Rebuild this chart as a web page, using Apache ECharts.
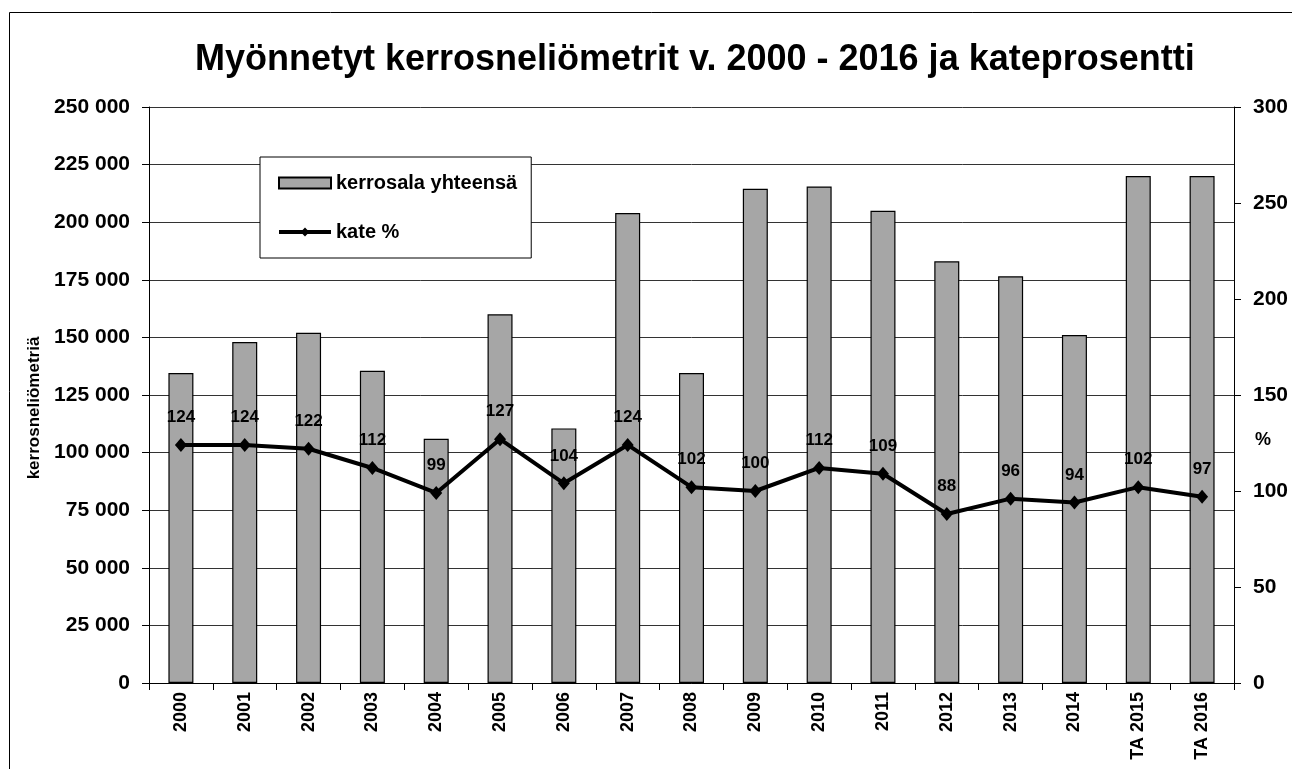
<!DOCTYPE html>
<html><head><meta charset="utf-8">
<script src="https://cdn.jsdelivr.net/npm/echarts@6/dist/echarts.min.js"></script>
<style>html,body{margin:0;padding:0;background:#fff}#c{width:1292px;height:769px}</style>
</head><body><div id="c"></div>
<script>
const categories = ['2000','2001','2002','2003','2004','2005','2006','2007','2008','2009','2010','2011','2012','2013','2014','TA 2015','TA 2016'];
const kerrosala = [134500,148000,152000,135500,106000,160000,110500,204000,134500,214500,215500,205000,183000,176500,151000,220000,220000];
const kate = [124,124,122,112,99,127,104,124,102,100,112,109,88,96,94,102,97];

const F = 'Liberation Sans, Arial, sans-serif';
const chart = echarts.init(document.getElementById('c'));
chart.setOption({
  animation: false,
  backgroundColor: '#fff',
  graphic: [
    {type:'rect', shape:{x:9.5,y:12.5,width:1300,height:800}, style:{fill:'none',stroke:'#000',lineWidth:1}, z:-1},
    {type:'text', left:1255, top:431, style:{text:'%', font:'bold 18px '+F, fill:'#000'}}
  ],
  title: {text:'Myönnetyt kerrosneliömetrit v. 2000 - 2016 ja kateprosentti', left:190, top:37,
    textStyle:{fontFamily:F, fontSize:36, fontWeight:'bold', color:'#000'}},
  legend: {orient:'vertical', left:260, top:157, padding:[16,14,16,17], itemGap:29,
    borderColor:'#000', borderWidth:1, backgroundColor:'#fff', itemWidth:52, itemHeight:11,
    textStyle:{fontFamily:F, fontSize:20, fontWeight:'bold', color:'#000'},
    data:[{name:'kerrosala yhteensä', icon:'rect'},{name:'kate %', lineStyle:{width:4, color:'#000'}}]},
  grid: {left:149, right:58, top:107, bottom:86},
  xAxis: {type:'category', data:categories,
    axisLine:{lineStyle:{color:'#000',width:1}},
    axisTick:{show:true, length:7, lineStyle:{color:'#000'}},
    axisLabel:{rotate:90, fontFamily:F, fontSize:18, fontWeight:'bold', color:'#000', margin:9}},
  yAxis: [
    {type:'value', min:0, max:250000, interval:25000, name:'kerrosneliömetriä', nameLocation:'middle', nameGap:101,
     nameTextStyle:{fontFamily:F, fontSize:17, fontWeight:'bold', color:'#000', padding:[0,26,0,0]},
     axisLine:{show:true, lineStyle:{color:'#000'}}, axisTick:{show:true, length:7, lineStyle:{color:'#000'}},
     splitLine:{lineStyle:{color:'#333', width:1}},
     axisLabel:{fontFamily:F, fontSize:21, fontWeight:'bold', color:'#000', margin:19,
       formatter: v => v===0 ? '0' : String(v).replace(/\B(?=(\d{3})+(?!\d))/g,' ')}},
    {type:'value', min:0, max:300, interval:50,
     axisLine:{show:true, lineStyle:{color:'#000'}}, axisTick:{show:true, length:7, lineStyle:{color:'#000'}},
     splitLine:{show:false},
     axisLabel:{fontFamily:F, fontSize:21, fontWeight:'bold', color:'#000', margin:19}}
  ],
  series: [
    {name:'kerrosala yhteensä', type:'bar', data:kerrosala, barWidth:25,
     itemStyle:{color:'#a6a6a6', borderColor:'#000', borderWidth:1.2}},
    {name:'kate %', type:'line', yAxisIndex:1, data:kate, symbol:'diamond', symbolSize:[12,14],
     lineStyle:{color:'#000', width:4}, itemStyle:{color:'#000'},
     label:{show:true, position:'top', distance:12, fontFamily:F, fontSize:17, fontWeight:'bold', color:'#000'}}
  ]
});
</script></body></html>
